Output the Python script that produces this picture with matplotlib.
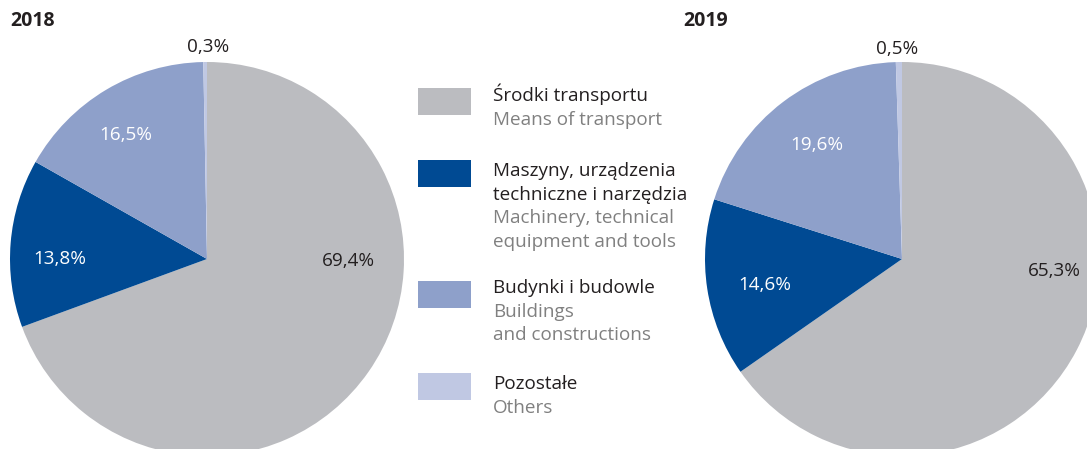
import matplotlib
matplotlib.use("Agg")
import matplotlib.pyplot as plt

plt.rcParams['font.family'] = ['Open Sans', 'DejaVu Sans']

years = ["2018", "2019"]
categories_pl = [["Środki transportu"], ["Maszyny, urządzenia", "techniczne i narzędzia"],
                 ["Budynki i budowle"], ["Pozostałe"]]
categories_en = [["Means of transport"], ["Machinery, technical", "equipment and tools"],
                 ["Buildings", "and constructions"], ["Others"]]
values_2018 = [69.4, 13.8, 16.5, 0.3]
values_2019 = [65.3, 14.6, 19.6, 0.5]
labels_2018 = ["69,4%", "13,8%", "16,5%", "0,3%"]
labels_2019 = ["65,3%", "14,6%", "19,6%", "0,5%"]

colors = ["#bbbcc0", "#004a93", "#8ea0ca", "#c0c8e3"]
label_colors = ["#231f20", "white", "white", "#231f20"]

W, H = 1087, 449
fig = plt.figure(figsize=(W / 100, H / 100), dpi=100)
ax = fig.add_axes([0, 0, 1, 1])

def Y(y):
    return H - y

R = 197
centers = [(207, Y(259)), (902, Y(259))]
# (center x, baseline y) in image pixels
label_pos = [
    [(348.5, 266.5), (59.5, 264.5), (126, 139.5), (208, 52.5)],
    [(1054, 276.5), (765, 289.5), (817, 150.5), (897, 53.5)],
]
title_pos = [(10, 26), (683, 26)]
FS = 13.6

for vals, labs, c, lp, yr, tp in zip([values_2018, values_2019],
                                    [labels_2018, labels_2019],
                                    centers, label_pos, years, title_pos):
    ax.pie(vals, colors=colors, startangle=90, counterclock=False,
           center=c, radius=R, frame=True,
           wedgeprops=dict(linewidth=0))
    for t, (x, y), col in zip(labs, lp, label_colors):
        ax.text(x, Y(y), t, ha="center", va="baseline", fontsize=FS, color=col)
    ax.text(tp[0], Y(tp[1]), yr, ha="left", va="baseline", fontsize=14,
            fontweight="bold", color="#231f20")

# legend
sq_x, sq_w, sq_h = 418, 53, 27
legend_sq_y = [88, 160, 281, 373]
first_line_y = [95, 170, 287, 383]
step = 23.6
for col, sy, fy, pl, en in zip(colors, legend_sq_y, first_line_y,
                               categories_pl, categories_en):
    ax.add_patch(plt.Rectangle((sq_x, Y(sy + sq_h)), sq_w, sq_h, color=col, lw=0))
    lines = [(s, "#231f20") for s in pl] + [(s, "#808080") for s in en]
    for i, (s, tc) in enumerate(lines):
        ax.text(493, Y(fy + i * step + 6), s, ha="left", va="baseline",
                fontsize=FS, color=tc)

ax.set_xlim(0, W)
ax.set_ylim(0, H)
ax.set_aspect("equal")
ax.axis("off")

fig.savefig("out.png", dpi=100)
